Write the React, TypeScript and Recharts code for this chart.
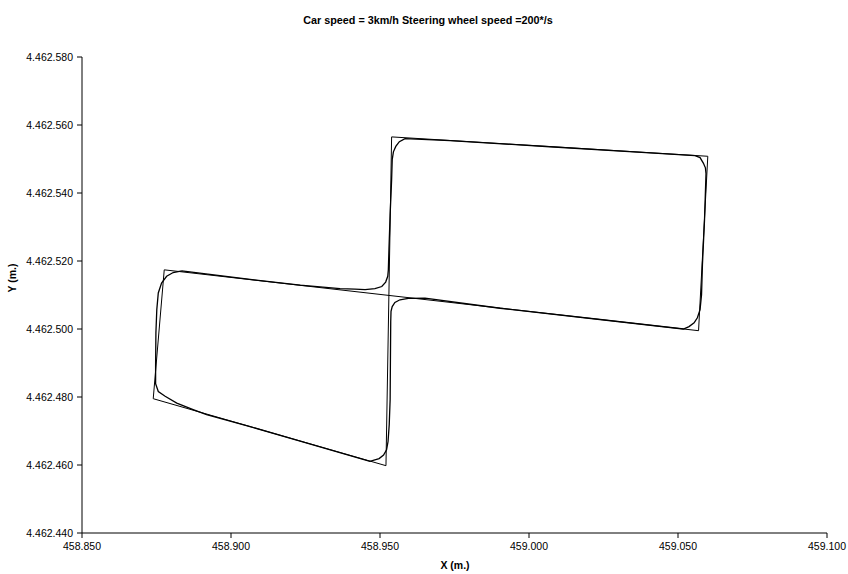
import React from "react";
import { LineChart, Line, XAxis, YAxis } from "recharts";

// reference path (straight segments)
const refX = [458877.6, 459056.9, 459060.0, 458953.9, 458952.0, 458873.9, 458877.6];
const refY = [4462517.4, 4462499.5, 4462550.8, 4462556.5, 4462459.8, 4462479.5, 4462517.4];

// driven path (rounded corners)
const carX = [
    458883.5, 458906.4, 458923.2, 458936.6, 458941.6, 458945.0, 458948.3, 458950.6, 458951.9, 458952.6,
    458952.8, 458953.0, 458953.4, 458953.9, 458954.1, 458954.5, 458955.3, 458956.5, 458958.4, 458973.5,
    459007.0, 459040.6, 459055.7, 459057.4, 459058.5, 459059.2, 459059.4, 459058.9, 459058.2, 459057.9,
    459057.4, 459056.5, 459055.4, 459053.7, 459051.8, 459023.8, 458990.3, 458965.1, 458959.5, 458956.7,
    458955.0, 458954.1, 458953.7, 458953.6, 458953.5, 458953.4, 458953.1, 458952.7, 458952.2, 458951.2,
    458949.7, 458946.6, 458923.2, 458906.4, 458891.8, 458887.3, 458881.8, 458877.9, 458875.6, 458874.7,
    458874.7, 458874.8, 458875.1, 458875.6, 458876.7, 458878.4, 458880.6, 458883.5,
];
const carY = [
    4462517.1, 4462514.6, 4462512.9, 4462511.9, 4462511.7, 4462511.6, 4462511.9, 4462512.5, 4462513.8, 4462515.5,
    4462517.4, 4462523.3, 4462533.6, 4462543.9, 4462549.8, 4462552.1, 4462553.7, 4462555.1, 4462556.0, 4462555.4,
    4462553.6, 4462551.8, 4462551.0, 4462550.4, 4462548.8, 4462547.4, 4462545.7, 4462532.1, 4462518.9, 4462510.1,
    4462505.7, 4462503.3, 4462501.8, 4462500.7, 4462500.0, 4462502.8, 4462506.1, 4462509.1, 4462509.0, 4462508.6,
    4462507.8, 4462506.6, 4462505.2, 4462502.2, 4462491.0, 4462479.2, 4462471.9, 4462466.9, 4462464.5, 4462462.9,
    4462461.9, 4462461.1, 4462467.0, 4462471.3, 4462474.8, 4462476.3, 4462478.2, 4462480.2, 4462481.6, 4462483.9,
    4462489.0, 4462498.8, 4462505.7, 4462510.6, 4462513.5, 4462515.5, 4462516.6, 4462517.1,
];

const xTicks = [458850, 458900, 458950, 459000, 459050, 459100];
const yTicks = [4462440, 4462460, 4462480, 4462500, 4462520, 4462540, 4462560, 4462580];

const refData = refX.map((x, i) => ({ x, y: refY[i] }));
const carData = carX.map((x, i) => ({ x, y: carY[i] }));

const FONT = "'Liberation Sans', Arial, sans-serif";

function fmt(v: number) {
    return String(Math.round(v)).replace(/\B(?=(\d{3})+(?!\d))/g, ".");
}

const YLabel = () => (
    <text
        x={16}
        y={278}
        transform="rotate(-90 16 278)"
        textAnchor="middle"
        fontFamily={FONT}
        fontSize={10.5}
        fontWeight="bold"
        fill="#000"
    >
        Y (m.)
    </text>
);

const XLabel = () => (
    <text
        x={455}
        y={569}
        textAnchor="middle"
        fontFamily={FONT}
        fontSize={10.5}
        fontWeight="bold"
        fill="#000"
    >
        X (m.)
    </text>
);

export default function App() {
    return (
        <div style={{ position: "absolute", left: 0, top: 0, width: 848, height: 574, background: "#fff" }}>
            <div
                style={{
                    position: "absolute",
                    top: 14,
                    left: 0,
                    width: 856,
                    textAlign: "center",
                    fontFamily: FONT,
                    fontSize: 10.8,
                    fontWeight: "bold",
                }}
            >
                Car speed = 3km/h Steering wheel speed =200*/s
            </div>
            <LineChart width={848} height={574} margin={{ top: 57, right: 21, left: 0, bottom: 0 }}>
                <XAxis
                    type="number"
                    dataKey="x"
                    domain={[458850, 459100]}
                    ticks={xTicks}
                    tickFormatter={fmt}
                    allowDataOverflow
                    height={41}
                    stroke="#000"
                    tickSize={5}
                    tickMargin={5}
                    tick={{ fill: "#000", fontSize: 10.5, fontFamily: FONT }}
                    label={<XLabel />}
                />
                <YAxis
                    type="number"
                    dataKey="y"
                    domain={[4462440, 4462580]}
                    ticks={yTicks}
                    tickFormatter={fmt}
                    allowDataOverflow
                    width={82}
                    stroke="#000"
                    tickSize={5}
                    tickMargin={4}
                    tick={{ fill: "#000", fontSize: 10.5, fontFamily: FONT }}
                    label={<YLabel />}
                />
                <Line
                    data={refData}
                    dataKey="y"
                    type="linear"
                    stroke="#000"
                    strokeWidth={1}
                    dot={false}
                    activeDot={false}
                    isAnimationActive={false}
                />
                <Line
                    data={carData}
                    dataKey="y"
                    type="linear"
                    stroke="#000"
                    strokeWidth={1.3}
                    dot={false}
                    activeDot={false}
                    isAnimationActive={false}
                />
            </LineChart>
        </div>
    );
}
